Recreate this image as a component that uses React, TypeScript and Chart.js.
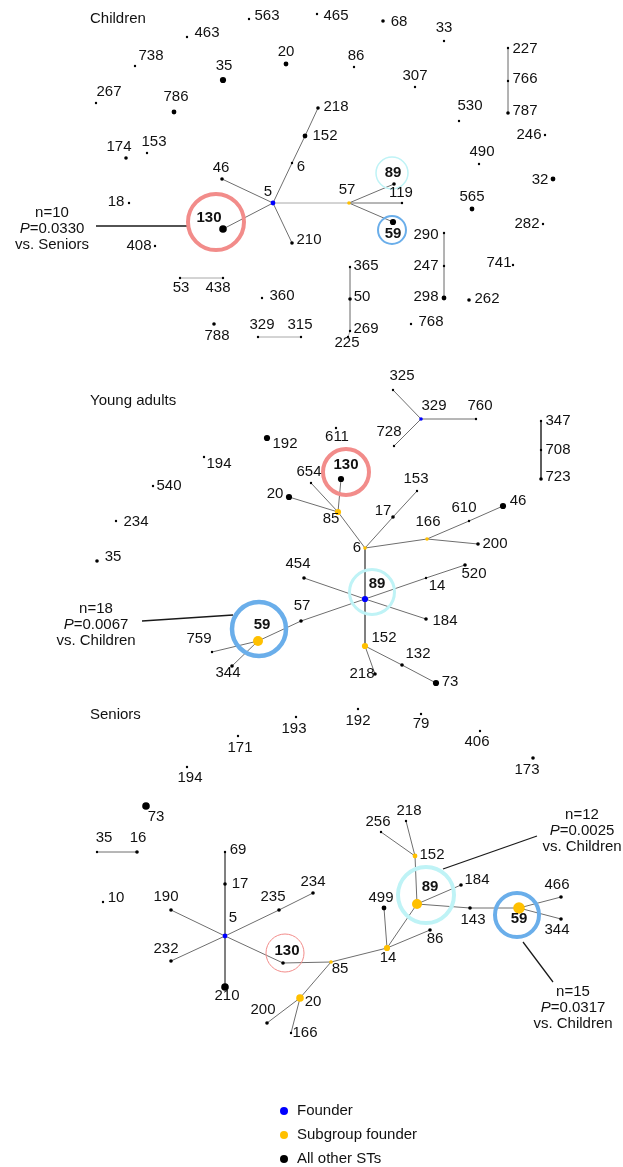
import React, { useEffect, useRef } from 'react';
import { Chart, registerables } from 'chart.js';

Chart.register(...registerables);

const W = 623;
const H = 1167;
const FONT = '"Liberation Sans", Arial, Helvetica, sans-serif';

type Kind = 'f' | 's' | 'o';
// id, x, y, kind, abundance class, label x, label y
type NodeRow = [string, number, number, Kind, number, number, number];
type EdgeRow = [string, string];
// id, centre x, centre y, radius, ring weight
type RingRow = [string, number, number, number, number];
// centre x, first line y, n text, P value, comparison
type NoteRow = [number, number, string, string, string];
type LeaderRow = [number, number, number, number];

const panelTitles: [string, number, number][] = [
  ['Children', 90, 19],
  ['Young adults', 90, 401],
  ['Seniors', 90, 715],
];

const childrenNodes: NodeRow[] = [
  ['563', 249, 19, 'o', 1, 267, 16],
  ['465', 317, 14, 'o', 1, 336, 16],
  ['68', 383, 21, 'o', 2, 399, 22],
  ['33', 444, 41, 'o', 1, 444, 28],
  ['463', 187, 37, 'o', 1, 207, 33],
  ['738', 135, 66, 'o', 1, 151, 56],
  ['20', 286, 64, 'o', 3, 286, 52],
  ['86', 354, 67, 'o', 1, 356, 56],
  ['35', 223, 80, 'o', 4, 224, 66],
  ['267', 96, 103, 'o', 1, 109, 92],
  ['786', 174, 112, 'o', 3, 176, 97],
  ['307', 415, 87, 'o', 1, 415, 76],
  ['227', 508, 48, 'o', 1, 525, 49],
  ['766', 508, 81, 'o', 1, 525, 79],
  ['787', 508, 113, 'o', 2, 525, 111],
  ['530', 459, 121, 'o', 1, 470, 106],
  ['218', 318, 108, 'o', 2, 336, 107],
  ['152', 305, 136, 'o', 3, 325, 136],
  ['6', 292, 163, 'o', 1, 301, 167],
  ['5', 273, 203, 'f', 3, 268, 192],
  ['174', 126, 158, 'o', 2, 119, 147],
  ['153', 147, 153, 'o', 1, 154, 142],
  ['246', 545, 135, 'o', 1, 529, 135],
  ['490', 479, 164, 'o', 1, 482, 152],
  ['32', 553, 179, 'o', 3, 540, 180],
  ['46', 222, 179, 'o', 2, 221, 168],
  ['18', 129, 203, 'o', 1, 116, 202],
  ['130', 223, 229, 'o', 5, 209, 218],
  ['210', 292, 243, 'o', 2, 309, 240],
  ['57', 349, 203, 's', 2, 347, 190],
  ['89', 394, 184, 'o', 2, 393, 173],
  ['119', 402, 203, 'o', 1, 401, 193],
  ['59', 393, 222, 'o', 4, 393, 234],
  ['408', 155, 246, 'o', 1, 139, 246],
  ['565', 472, 209, 'o', 3, 472, 197],
  ['282', 543, 224, 'o', 1, 527, 224],
  ['290', 444, 233, 'o', 1, 426, 235],
  ['247', 444, 266, 'o', 1, 426, 266],
  ['298', 444, 298, 'o', 3, 426, 297],
  ['741', 513, 265, 'o', 1, 499, 263],
  ['262', 469, 300, 'o', 2, 487, 299],
  ['365', 350, 267, 'o', 1, 366, 266],
  ['50', 350, 299, 'o', 2, 362, 297],
  ['269', 350, 331, 'o', 1, 366, 329],
  ['225', 348, 337, 'o', 1, 347, 343],
  ['53', 180, 278, 'o', 1, 181, 288],
  ['438', 223, 278, 'o', 1, 218, 288],
  ['360', 262, 298, 'o', 1, 282, 296],
  ['788', 214, 324, 'o', 2, 217, 336],
  ['329', 258, 337, 'o', 1, 262, 325],
  ['315', 301, 337, 'o', 1, 300, 325],
  ['768', 411, 324, 'o', 1, 431, 322],
];
const childrenEdges: EdgeRow[] = [
  ['5', '46'], ['5', '130'], ['5', '6'], ['6', '152'], ['152', '218'], ['5', '210'],
  ['57', '89'], ['57', '119'], ['57', '59'],
];
const childrenFaintEdges: EdgeRow[] = [
  ['5', '57'], ['227', '766'], ['766', '787'], ['290', '247'], ['247', '298'],
  ['365', '50'], ['50', '269'], ['269', '225'], ['53', '438'], ['329', '315'],
];
const childrenRings: RingRow[] = [
  ['130', 216, 222, 28, 4],
  ['89', 392, 173, 16, 1.5],
  ['59', 392, 230, 14, 2],
];

const youngNodes: NodeRow[] = [
  ['192', 267, 438, 'o', 4, 285, 444],
  ['194', 204, 457, 'o', 1, 219, 464],
  ['540', 153, 486, 'o', 1, 169, 486],
  ['234', 116, 521, 'o', 1, 136, 522],
  ['35', 97, 561, 'o', 2, 113, 557],
  ['20', 289, 497, 'o', 4, 275, 494],
  ['654', 311, 483, 'o', 1, 309, 472],
  ['611', 336, 428, 'o', 1, 337, 437],
  ['130', 341, 479, 'o', 4, 346, 465],
  ['85', 338, 512, 's', 4, 331, 519],
  ['6', 365, 548, 's', 2, 357, 548],
  ['17', 393, 517, 'o', 2, 383, 511],
  ['153', 417, 491, 'o', 1, 416, 479],
  ['166', 427, 539, 's', 2, 428, 522],
  ['610', 469, 521, 'o', 1, 464, 508],
  ['46', 503, 506, 'o', 4, 518, 501],
  ['200', 478, 544, 'o', 2, 495, 544],
  ['325', 393, 390, 'o', 1, 402, 376],
  ['329', 421, 419, 'f', 2, 434, 406],
  ['760', 476, 419, 'o', 1, 480, 406],
  ['728', 394, 446, 'o', 1, 389, 432],
  ['347', 541, 421, 'o', 1, 558, 421],
  ['708', 541, 450, 'o', 1, 558, 450],
  ['723', 541, 479, 'o', 2, 558, 477],
  ['89', 365, 599, 'f', 4, 377, 584],
  ['152', 365, 646, 's', 4, 384, 638],
  ['454', 304, 578, 'o', 2, 298, 564],
  ['184', 426, 619, 'o', 2, 445, 621],
  ['14', 426, 578, 'o', 1, 437, 586],
  ['520', 465, 565, 'o', 2, 474, 574],
  ['57', 301, 621, 'o', 2, 302, 606],
  ['59', 258, 641, 's', 6, 262, 625],
  ['759', 212, 652, 'o', 1, 199, 639],
  ['344', 232, 666, 'o', 2, 228, 673],
  ['218', 375, 674, 'o', 2, 362, 674],
  ['132', 402, 665, 'o', 2, 418, 654],
  ['73', 436, 683, 'o', 4, 450, 682],
];
const youngEdges: EdgeRow[] = [
  ['654', '85'], ['20', '85'], ['130', '85'], ['85', '6'], ['6', '17'], ['17', '153'],
  ['6', '166'], ['166', '610'], ['610', '46'], ['166', '200'],
  ['329', '325'], ['329', '760'], ['329', '728'],
  ['6', '89'], ['89', '152'], ['454', '89'], ['89', '184'],
  ['59', '57'], ['57', '89'], ['89', '14'], ['14', '520'],
  ['59', '759'], ['59', '344'], ['152', '218'], ['152', '132'], ['132', '73'],
];
const youngDarkEdges: EdgeRow[] = [['347', '708'], ['708', '723']];
const youngRings: RingRow[] = [
  ['130', 346, 472, 23, 4],
  ['89', 372, 592, 22.5, 3],
  ['59', 259, 629, 27, 4.5],
];

const seniorNodes: NodeRow[] = [
  ['193', 296, 717, 'o', 1, 294, 729],
  ['171', 238, 736, 'o', 1, 240, 748],
  ['194', 187, 767, 'o', 1, 190, 778],
  ['73', 146, 806, 'o', 5, 156, 817],
  ['35', 97, 852, 'o', 1, 104, 838],
  ['16', 137, 852, 'o', 2, 138, 838],
  ['192', 358, 709, 'o', 1, 358, 721],
  ['79', 421, 714, 'o', 1, 421, 724],
  ['406', 480, 731, 'o', 1, 477, 742],
  ['173', 533, 758, 'o', 2, 527, 770],
  ['69', 225, 852, 'o', 1, 238, 850],
  ['17', 225, 884, 'o', 2, 240, 884],
  ['5', 225, 936, 'f', 3, 233, 918],
  ['210', 225, 987, 'o', 5, 227, 996],
  ['190', 171, 910, 'o', 2, 166, 897],
  ['232', 171, 961, 'o', 2, 166, 949],
  ['235', 279, 910, 'o', 2, 273, 897],
  ['234', 313, 893, 'o', 2, 313, 882],
  ['130', 283, 963, 'o', 2, 287, 951],
  ['10', 103, 902, 'o', 1, 116, 898],
  ['85', 331, 962, 's', 2, 340, 969],
  ['20', 300, 998, 's', 5, 313, 1002],
  ['200', 267, 1023, 'o', 2, 263, 1010],
  ['166', 291, 1033, 'o', 1, 305, 1033],
  ['14', 387, 948, 's', 4, 388, 958],
  ['499', 384, 908, 'o', 3, 381, 898],
  ['86', 430, 930, 'o', 2, 435, 939],
  ['89', 417, 904, 's', 6, 430, 887],
  ['152', 415, 856, 's', 3, 432, 855],
  ['256', 381, 832, 'o', 1, 378, 822],
  ['218', 406, 821, 'o', 1, 409, 811],
  ['184', 461, 885, 'o', 2, 477, 880],
  ['143', 470, 908, 'o', 2, 473, 920],
  ['59', 519, 908, 's', 7, 519, 919],
  ['466', 561, 897, 'o', 2, 557, 885],
  ['344', 561, 919, 'o', 2, 557, 930],
];
const seniorEdges: EdgeRow[] = [
  ['35', '16'], ['69', '17'], ['17', '5'], ['5', '210'], ['190', '5'], ['5', '130'],
  ['232', '5'], ['5', '235'], ['235', '234'], ['130', '85'], ['85', '20'],
  ['20', '200'], ['20', '166'], ['85', '14'], ['14', '499'], ['14', '86'], ['14', '89'],
  ['89', '152'], ['152', '256'], ['152', '218'], ['89', '184'], ['89', '143'],
  ['143', '59'], ['59', '466'], ['59', '344'],
];
const seniorRings: RingRow[] = [
  ['130', 285, 953, 19, 1],
  ['89', 426, 895, 28, 4],
  ['59', 517, 915, 22, 4],
];

const noteTexts: NoteRow[] = [
  [52, 213, 'n=10', '0.0330', 'vs. Seniors'],
  [96, 609, 'n=18', '0.0067', 'vs. Children'],
  [582, 815, 'n=12', '0.0025', 'vs. Children'],
  [573, 992, 'n=15', '0.0317', 'vs. Children'],
];
const noteLeaders: LeaderRow[] = [
  [96, 226, 188, 226],
  [142, 621, 233, 615],
  [443, 869, 537, 836],
  [523, 942, 553, 982],
];

const legendLabels = ['Founder', 'Subgroup founder', 'All other STs'];
const legendKinds: Kind[] = ['f', 's', 'o'];
const legendAnchor: [number, number, number] = [284, 1111, 24];

const KIND_COLOR: Record<Kind, string> = { f: '#0000ff', s: '#ffc000', o: '#000000' };
const RING_COLOR: Record<string, string> = { '130': '#f28c8a', '89': '#bff3f6', '59': '#6aaeea' };
const RADIUS = [0, 1.2, 1.8, 2.4, 3.1, 3.8, 5, 5.8];

type Panel = {
  nodes: NodeRow[];
  edges: EdgeRow[];
  faint: EdgeRow[];
  dark: EdgeRow[];
  rings: RingRow[];
};

const panels: Panel[] = [
  { nodes: childrenNodes, edges: childrenEdges, faint: childrenFaintEdges, dark: [], rings: childrenRings },
  { nodes: youngNodes, edges: youngEdges, faint: [], dark: youngDarkEdges, rings: youngRings },
  { nodes: seniorNodes, edges: seniorEdges, faint: [], dark: [], rings: seniorRings },
];

function buildDatasets() {
  const ds: any[] = [];
  const edgeSet = (p: Panel, list: EdgeRow[], color: string, width: number) => {
    const map = new Map(p.nodes.map((n) => [n[0], n]));
    list.forEach(([a, b]) => {
      const na = map.get(a)!;
      const nb = map.get(b)!;
      ds.push({
        type: 'scatter',
        showLine: true,
        data: [{ x: na[1], y: na[2] }, { x: nb[1], y: nb[2] }],
        borderColor: color,
        borderWidth: width,
        pointRadius: 0,
        tension: 0,
        order: 4,
      });
    });
  };
  panels.forEach((p) => {
    edgeSet(p, p.edges, '#6e6e6e', 1);
    edgeSet(p, p.faint, '#a8a8a8', 1);
    edgeSet(p, p.dark, '#2a2a2a', 1.5);
  });
  noteLeaders.forEach(([x1, y1, x2, y2]) => {
    ds.push({
      type: 'scatter',
      showLine: true,
      data: [{ x: x1, y: y1 }, { x: x2, y: y2 }],
      borderColor: '#1a1a1a',
      borderWidth: 1.3,
      pointRadius: 0,
      order: 4,
    });
  });
  const rings = panels.flatMap((p) => p.rings);
  ds.push({
    type: 'scatter',
    data: rings.map((r) => ({ x: r[1], y: r[2] })),
    pointRadius: rings.map((r) => r[3]),
    pointBorderWidth: rings.map((r) => r[4]),
    pointBorderColor: rings.map((r) => RING_COLOR[r[0]]),
    pointBackgroundColor: 'rgba(0,0,0,0)',
    order: 3,
  });
  const nodes = panels.flatMap((p) => p.nodes);
  ds.push({
    type: 'scatter',
    data: nodes.map((n) => ({ x: n[1], y: n[2] })),
    pointRadius: nodes.map((n) => RADIUS[n[4]]),
    pointBorderWidth: 0,
    pointBackgroundColor: nodes.map((n) => KIND_COLOR[n[3]]),
    order: 1,
  });
  return ds;
}

const textPlugin = {
  id: 'networkTexts',
  afterDatasetsDraw(chart: any) {
    const { ctx } = chart;
    const sx = chart.scales.x;
    const sy = chart.scales.y;
    const px = (v: number) => sx.getPixelForValue(v);
    const py = (v: number) => sy.getPixelForValue(v);
    ctx.save();
    ctx.fillStyle = '#111';
    ctx.textBaseline = 'middle';
    ctx.textAlign = 'center';
    panels.forEach((p) => {
      const ringIds = new Set(p.rings.map((r) => r[0]));
      p.nodes.forEach((n) => {
        ctx.font = (ringIds.has(n[0]) ? 'bold ' : '') + '15px ' + FONT;
        ctx.fillText(n[0], px(n[5]), py(n[6]));
      });
    });
    ctx.textAlign = 'left';
    ctx.font = '15px ' + FONT;
    panelTitles.forEach(([t, x, y]) => ctx.fillText(t, px(x), py(y)));
    noteTexts.forEach(([cx, cy, n, pv, vs]) => {
      ctx.textAlign = 'center';
      ctx.font = '15px ' + FONT;
      ctx.fillText(n, px(cx), py(cy));
      ctx.fillText(vs, px(cx), py(cy + 32));
      ctx.font = 'italic 15px ' + FONT;
      const wP = ctx.measureText('P').width;
      ctx.font = '15px ' + FONT;
      const rest = '=' + pv;
      const wR = ctx.measureText(rest).width;
      const left = px(cx) - (wP + wR) / 2;
      ctx.textAlign = 'left';
      ctx.font = 'italic 15px ' + FONT;
      ctx.fillText('P', left, py(cy + 16));
      ctx.font = '15px ' + FONT;
      ctx.fillText(rest, left + wP, py(cy + 16));
    });
    const [lx, ly, step] = legendAnchor;
    legendLabels.forEach((lab, i) => {
      const y = py(ly + i * step);
      ctx.beginPath();
      ctx.fillStyle = KIND_COLOR[legendKinds[i]];
      ctx.arc(px(lx), y, 4, 0, Math.PI * 2);
      ctx.fill();
      ctx.fillStyle = '#111';
      ctx.textAlign = 'left';
      ctx.font = '15px ' + FONT;
      ctx.fillText(lab, px(lx + 13), y);
    });
    ctx.restore();
  },
};

export default function App() {
  const ref = useRef<HTMLCanvasElement | null>(null);
  useEffect(() => {
    if (!ref.current) return;
    const chart = new Chart(ref.current, {
      type: 'scatter',
      data: { datasets: buildDatasets() },
      options: {
        animation: false,
        responsive: false,
        devicePixelRatio: 1,
        events: [],
        layout: { padding: 0, autoPadding: false },
        plugins: { legend: { display: false }, tooltip: { enabled: false } },
        scales: {
          x: { type: 'linear', min: 0, max: W, display: false },
          y: { type: 'linear', min: 0, max: H, reverse: true, display: false },
        },
      },
      plugins: [textPlugin],
    } as any);
    return () => chart.destroy();
  }, []);
  return (
    <div style={{ position: 'absolute', left: 0, top: 0, width: W, height: H, background: '#fff' }}>
      <canvas ref={ref} width={W} height={H} style={{ display: 'block' }} />
    </div>
  );
}
